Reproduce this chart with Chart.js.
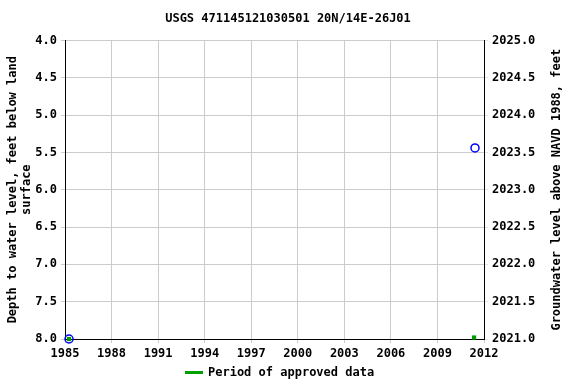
<!DOCTYPE html>
<html>
<head>
<meta charset="utf-8">
<script src="https://cdn.jsdelivr.net/npm/chart.js@4"></script>
<style>
  html, body { margin: 0; padding: 0; background: #fff; }
  #wrap { width: 576px; height: 384px; }
</style>
</head>
<body>
<div id="wrap"><canvas id="myChart" width="576" height="384"></canvas></div>
<script>
// measured depth to water, feet below land surface
const measYears = [1985.26, 2011.42];
const measDepth = [8.0, 5.44];
// period of approved data markers (drawn on bottom axis)
const approvedYears = [1985.26, 2011.36];
const approvedDepth = [8.0, 7.98];

const xTicks = [1985, 1988, 1991, 1994, 1997, 2000, 2003, 2006, 2009, 2012];

const leftTitle = ['Depth to water level, feet below land', 'surface'];
const rightTitle = 'Groundwater level above NAVD 1988, feet';
const legendText = 'Period of approved data';

const monoFont = { family: 'DejaVu Sans Mono', size: 12, weight: 'bold' };

// axis titles read bottom to top on both sides, and the legend sits low, so draw them by hand
const extras = {
    id: 'extras',
    afterDraw(chart) {
        const c = chart.ctx;
        const area = chart.chartArea;
        const cy = (area.top + area.bottom) / 2;
        c.save();
        c.fillStyle = '#000';
        c.font = 'bold 12px "DejaVu Sans Mono"';
        c.textAlign = 'center';
        c.textBaseline = 'middle';
        c.translate(13, cy);
        c.rotate(-Math.PI / 2);
        c.fillText(leftTitle[0], 0, 0);
        c.fillText(leftTitle[1], 0, 14);
        c.restore();

        c.save();
        c.fillStyle = '#000';
        c.font = 'bold 12px "DejaVu Sans Mono"';
        c.textAlign = 'center';
        c.textBaseline = 'middle';
        c.translate(557, cy);
        c.rotate(-Math.PI / 2);
        c.fillText(rightTitle, 0, 0);
        c.restore();

        // legend
        c.save();
        c.fillStyle = '#00a000';
        c.fillRect(185, 371, 18, 3);
        c.fillStyle = '#000';
        c.font = 'bold 12px "DejaVu Sans Mono"';
        c.textAlign = 'left';
        c.textBaseline = 'middle';
        c.fillText(legendText, 208, 373);
        c.restore();
    }
};

const ctx = document.getElementById('myChart');
const myChart = new Chart(ctx, {
    type: 'scatter',
    data: {
        datasets: [{
            label: 'Period of approved data',
            data: approvedYears.map((x, i) => ({ x: x, y: approvedDepth[i] })),
            pointStyle: 'rect',
            pointRadius: 3,
            borderWidth: 0,
            borderColor: '#00a000',
            backgroundColor: '#00a000',
            clip: false,
            yAxisID: 'y'
        }, {
            label: 'Measurements',
            data: measYears.map((x, i) => ({ x: x, y: measDepth[i] })),
            pointStyle: 'circle',
            pointRadius: 4,
            pointBorderWidth: 1.5,
            borderColor: '#0000ff',
            backgroundColor: 'rgba(0,0,0,0)',
            clip: false,
            yAxisID: 'y'
        }]
    },
    options: {
        responsive: false,
        animation: false,
        layout: { padding: { top: 0, bottom: 18, left: 0, right: 0 } },
        plugins: {
            title: {
                display: true,
                text: 'USGS 471145121030501 20N/14E-26J01',
                font: monoFont,
                color: '#000',
                padding: { top: 12, bottom: 14 }
            },
            legend: { display: false },
            tooltip: { enabled: false }
        },
        scales: {
            x: {
                type: 'linear',
                min: 1985,
                max: 2012,
                afterBuildTicks: axis => { axis.ticks = xTicks.map(v => ({ value: v })); },
                ticks: { font: monoFont, color: '#000', maxRotation: 0, padding: 4, callback: v => String(v) },
                grid: { color: '#cccccc', drawTicks: true, tickLength: 4 },
                border: { color: '#000', width: 1 },
                afterFit: axis => { axis.height = 27; }
            },
            y: {
                type: 'linear',
                position: 'left',
                reverse: true,
                min: 4.0,
                max: 8.0,
                ticks: { stepSize: 0.5, font: monoFont, color: '#000', padding: 4, callback: v => v.toFixed(1) },
                grid: { color: '#cccccc', tickLength: 4 },
                border: { color: '#000', width: 1 },
                afterFit: axis => { axis.width = 65; }
            },
            y2: {
                type: 'linear',
                position: 'right',
                min: 2021.0,
                max: 2025.0,
                ticks: { stepSize: 0.5, font: monoFont, color: '#000', padding: 4, callback: v => v.toFixed(1) },
                grid: { drawOnChartArea: false, tickLength: 4 },
                border: { color: '#000', width: 1 },
                afterFit: axis => { axis.width = 92; }
            }
        }
    },
    plugins: [extras]
});
</script>
</body>
</html>
